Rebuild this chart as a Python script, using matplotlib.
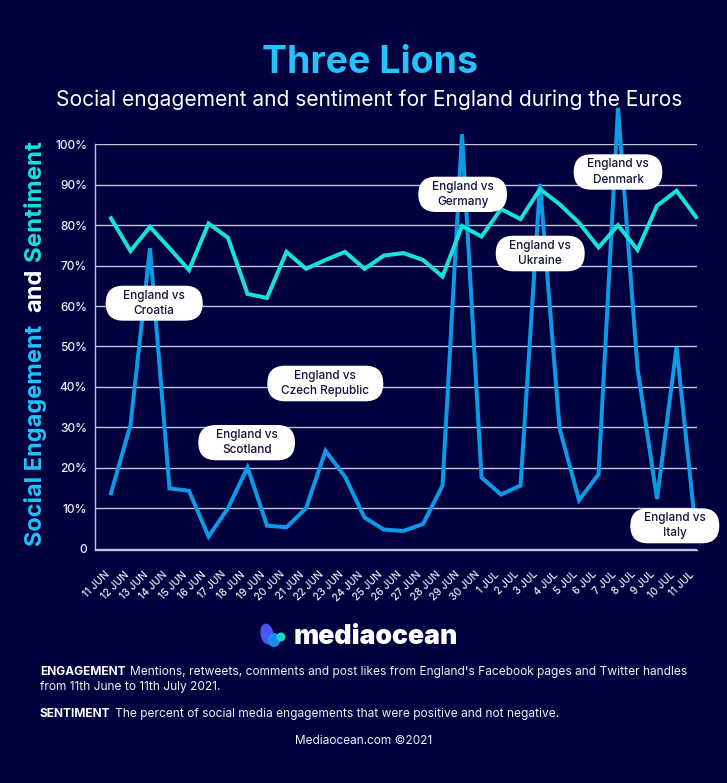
import matplotlib
matplotlib.use('Agg')
import matplotlib.pyplot as plt
from matplotlib.patches import FancyBboxPatch, Ellipse
from matplotlib.transforms import IdentityTransform, ScaledTranslation

# Data
days = ['11 JUN', '12 JUN', '13 JUN', '14 JUN', '15 JUN', '16 JUN', '17 JUN', '18 JUN', '19 JUN', '20 JUN',
        '21 JUN', '22 JUN', '23 JUN', '24 JUN', '25 JUN', '26 JUN', '27 JUN', '28 JUN', '29 JUN', '30 JUN',
        '1 JUL', '2 JUL', '3 JUL', '4 JUL', '5 JUL', '6 JUL', '7 JUL', '8 JUL', '9 JUL', '10 JUL', '11 JUL']
engagement = [13.7, 30.6, 74.3, 14.9, 14.3, 3.0, 10.0, 20.1, 5.7, 5.3,
              10.0, 24.2, 17.8, 7.7, 4.7, 4.4, 6.1, 15.6, 102.5, 17.6,
              13.4, 15.6, 90.2, 29.8, 12.0, 18.4, 109.0, 44.6, 12.3, 49.8, 4.0]
sentiment = [81.7, 73.6, 79.6, 74.3, 68.9, 80.4, 76.9, 63.0, 62.0, 73.4,
             69.2, 71.4, 73.4, 69.2, 72.5, 73.1, 71.4, 67.3, 79.8, 77.2,
             84.0, 81.5, 88.9, 85.2, 80.6, 74.5, 80.0, 73.9, 84.8, 88.5, 82.0]
y_ticks = [0, 10, 20, 30, 40, 50, 60, 70, 80, 90, 100]
y_labels = ['0', '10%', '20%', '30%', '40%', '50%', '60%', '70%', '80%', '90%', '100%']
match_labels = ['England vs\nCroatia', 'England vs\nScotland', 'England vs\nCzech Republic', 'England vs\nGermany',
                'England vs\nDenmark', 'England vs\nUkraine', 'England vs\nItaly']

W, H = 727, 783
BG = '#00003f'
GRID = '#c4c4d4'
BLUE = '#0a9ae6'
TEAL = '#16e3d8'
TITLE = '#22c4fb'

plt.rcParams['font.family'] = ['Inter', 'DejaVu Sans']

fig = plt.figure(figsize=(W / 100, H / 100), dpi=100, facecolor=BG)
ax = fig.add_axes([95.3 / W, 1 - 550 / H, (697 - 95.3) / W, (550 - 144.3) / H], facecolor=BG)

x = list(range(len(days)))
ax.plot(x, engagement, color=BLUE, lw=2.9, clip_on=False, solid_joinstyle='miter', zorder=3)
ax.plot(x, sentiment, color=TEAL, lw=2.9, clip_on=False, solid_joinstyle='miter', zorder=4)

ax.set_xlim(-0.805, 30.05)
ax.set_ylim(-0.33, 100)
ax.set_yticks(y_ticks)
ax.set_yticklabels(y_labels, color='#eeeef4', fontsize=8.6, fontweight='medium')
ax.set_xticks(x)
ax.set_xticklabels(days, rotation=45, ha='right', rotation_mode='anchor', color='#eeeef4', fontsize=7.4,
                   fontweight='medium')
ax.tick_params(axis='both', length=0)
ax.tick_params(axis='y', pad=6)
ax.tick_params(axis='x', pad=14)
# nudge date labels left, as in the original
shift = ScaledTranslation(-5 / 72, 0, fig.dpi_scale_trans)
for lab in ax.get_xticklabels():
    lab.set_transform(lab.get_transform() + shift)
ax.grid(axis='y', color=GRID, lw=1)
ax.set_axisbelow(True)
for side in ['top', 'right']:
    ax.spines[side].set_visible(False)
for side in ['left', 'bottom']:
    ax.spines[side].set_color(GRID)
    ax.spines[side].set_linewidth(1)


def ftext(px, py, s, **kw):
    return fig.text(px / W, 1 - py / H, s, **kw)


# Match labels, boxes placed in pixels
boxes = [(105.7, 202.7, 285.7, 320.7), (198.3, 295, 425, 460.3), (267.3, 383.3, 365.7, 401.3),
         (418.3, 507, 176.7, 212), (573.7, 662.3, 154.3, 189.7), (495.7, 584.7, 235.7, 271.3),
         (630.3, 719.3, 508.3, 543.3)]
for (x0, x1, y0, y1), label in zip(boxes, match_labels):
    r = (y1 - y0) / 2
    fig.add_artist(FancyBboxPatch((x0 + r, H - y1 + r), x1 - x0 - 2 * r, y1 - y0 - 2 * r,
                                  boxstyle=f'round,pad={r},rounding_size={r}', fc='white', ec='none',
                                  transform=IdentityTransform(), zorder=5))
    ftext((x0 + x1) / 2, (y0 + y1) / 2, label, ha='center', va='center', color='#14143c', fontsize=8.5,
          fontweight='medium', linespacing=1.35, zorder=6)

# Titles
ftext(369.5, 63, 'Three Lions', ha='center', va='center', color=TITLE, fontsize=27, fontweight='bold')
ftext(369.5, 99.5, 'Social engagement and sentiment for England during the Euros', ha='center', va='center',
      color='white', fontsize=15.1)

# Side title in three colours
ftext(35.5, 546, 'Social Engagement', rotation=90, ha='center', va='bottom', color=TITLE, fontsize=17, fontweight='bold')
ftext(35.5, 312, 'and', rotation=90, ha='center', va='bottom', color='white', fontsize=17, fontweight='bold')
ftext(35.5, 261, 'Sentiment', rotation=90, ha='center', va='bottom', color=TEAL, fontsize=17.4, fontweight='bold')

# Logo
fig.add_artist(Ellipse((267, H - 634), 13, 21, angle=10, fc='#4a55ee', ec='none', transform=IdentityTransform()))
fig.add_artist(Ellipse((274, H - 640), 13, 14, fc='#1a8cf0', ec='none', transform=IdentityTransform()))
fig.add_artist(Ellipse((281, H - 637), 9, 9, fc='#14d8c8', ec='none', transform=IdentityTransform()))
ftext(294, 637, 'mediaocean', ha='left', va='center', color='white', fontsize=19.2, fontweight='black')

# Footer notes
renderer = fig.canvas.get_renderer()
head = ftext(40, 672, 'ENGAGEMENT', ha='left', va='center', color='white', fontsize=8.6, fontweight='bold')
end = head.get_window_extent(renderer).x1
ftext(end + 4, 672, "Mentions, retweets, comments and post likes from England's Facebook pages and Twitter handles",
      ha='left', va='center', color='#f0f0f5', fontsize=8.6)
ftext(40, 687, 'from 11th June to 11th July 2021.', ha='left', va='center', color='#f0f0f5', fontsize=8.6)
head = ftext(40, 714, 'SENTIMENT', ha='left', va='center', color='white', fontsize=8.6, fontweight='bold')
end = head.get_window_extent(renderer).x1
ftext(end + 4, 714, 'The percent of social media engagements that were positive and not negative.',
      ha='left', va='center', color='#f0f0f5', fontsize=8.6)
ftext(363.5, 741, 'Mediaocean.com ©2021', ha='center', va='center', color='#f0f0f5', fontsize=8.5)

fig.savefig('out.png', dpi=100, facecolor=BG)
